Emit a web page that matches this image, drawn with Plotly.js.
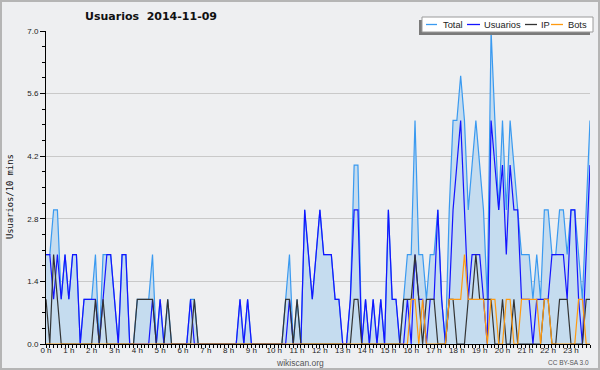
<!DOCTYPE html>
<html><head><meta charset="utf-8">
<script src="https://cdn.plot.ly/plotly-3.0.1.min.js"></script>
<style>
html,body{margin:0;padding:0;background:#eeeff1;}
#wrap{position:relative;width:600px;height:370px;}
#chart{width:600px;height:370px;}
#frame{position:absolute;left:0;top:0;width:600px;height:370px;box-sizing:border-box;border:2px solid #b5b5b5;pointer-events:none;}
</style>
</head><body>
<div id="wrap"><div id="chart"></div><div id="frame"></div></div>
<script>
// 10-minute slots, 2014-11-09 (144 values, 00:00 .. 23:50)
const total = [
 2,2,3,3,1,2,1,2,2,0,1,1,
 1,2,0,2,2,2,1,0,2,2,0,0,
 1,1,1,1,2,0,1,0,1,0,0,0,
 0,0,1,1,0,0,0,0,0,0,0,0,
 0,0,0,1,0,1,0,0,0,0,0,0,
 0,0,0,1,2,0,1,0,3,2,1,2,
 3,2,2,2,1,1,0,0,1,4,4,0,
 1,0,1,0,1,0,3,1,1,0,1,2,
 2,5,2,2,1,2,2,3,1,0,3,5,
 5,6,5,3,4,5,4,3,1,7,5,3,
 5,3,5,4,3,2,2,2,1,2,1,3,
 3,2,2,3,3,2,3,3,2,1,3,5
];
const usuarios = [
 2,2,1,2,1,2,1,2,2,0,1,1,
 1,1,0,1,2,2,1,0,2,2,0,0,
 0,0,0,0,1,0,1,0,0,0,0,0,
 0,0,1,0,0,0,0,0,0,0,0,0,
 0,0,0,1,0,1,0,0,0,0,0,0,
 0,0,0,0,1,0,0,0,3,2,1,2,
 3,2,2,2,1,1,0,0,1,3,3,0,
 1,0,1,0,1,0,3,1,1,0,0,1,
 0,2,1,1,0,1,1,3,1,0,1,3,
 4,5,3,1,2,2,2,1,0,5,4,3,
 4,2,4,3,3,1,1,1,0,1,1,1,
 1,2,2,2,2,1,3,3,1,0,2,4
];
const ip = [
 1,0,2,1,0,0,0,0,0,0,0,0,
 0,1,0,1,0,0,0,0,0,0,0,0,
 1,1,1,1,1,0,0,0,1,0,0,0,
 0,0,0,1,0,0,0,0,0,0,0,0,
 0,0,0,0,0,0,0,0,0,0,0,0,
 0,0,0,1,1,0,1,0,0,0,0,0,
 0,0,0,0,0,0,0,0,0,1,1,0,
 0,0,0,0,0,0,0,0,0,0,1,1,
 1,2,1,0,1,1,1,0,0,0,1,1,
 0,0,0,1,1,2,1,1,1,1,0,0,
 1,0,0,1,0,0,0,0,0,0,0,1,
 1,0,0,1,1,1,0,0,0,0,1,1
];
const bots = [
 0,0,0,0,0,0,0,0,0,0,0,0,
 0,0,0,0,0,0,0,0,0,0,0,0,
 0,0,0,0,0,0,0,0,0,0,0,0,
 0,0,0,0,0,0,0,0,0,0,0,0,
 0,0,0,0,0,0,0,0,0,0,0,0,
 0,0,0,0,0,0,0,0,0,0,0,0,
 0,0,0,0,0,0,0,0,0,0,0,0,
 0,0,0,0,0,0,0,0,0,0,0,0,
 1,1,0,1,0,0,0,0,0,0,1,1,
 1,1,2,1,1,1,1,1,0,1,1,0,
 0,1,1,0,0,1,1,1,1,1,0,1,
 1,0,0,0,0,0,0,0,1,1,0,0
];
const seriesNames = ["Total","Usuarios","IP","Bots"];
const colors = {Total:"#3a9af0", Usuarios:"#1414ff", IP:"#333333", Bots:"#ff9a10"};
const fillColor = "#c5dcef";
const titleText = "Usuarios\u00a0\u00a02014-11-09";
const yTitle = "Usuarios/10 mins";
const footer = "wikiscan.org";
const license = "CC BY-SA 3.0";

const hours = total.map((_, i) => i / 6);

const W = 600, H = 370, L = 46, R = 10, T = 31, B = 26;
const PW = W - L - R, PH = H - T - B;
const px = x => (x - L) / PW;
const py = y => (H - B - y) / PH;

const traces = [
  {x: hours, y: total, name: "Total", type: "scatter", mode: "lines", fill: "tozeroy",
   fillcolor: fillColor, line: {color: colors.Total, width: 1.2}},
  {x: hours, y: usuarios, name: "Usuarios", type: "scatter", mode: "lines",
   line: {color: colors.Usuarios, width: 1.2}},
  {x: hours, y: ip, name: "IP", type: "scatter", mode: "lines",
   line: {color: colors.IP, width: 1.2}},
  {x: hours, y: bots, name: "Bots", type: "scatter", mode: "lines",
   line: {color: colors.Bots, width: 1.2}}
];

// manual legend (compact, with drop shadow)
const legLines = [[426,437],[467,480],[525,537],[551,563]];
const legText = [442,483,540,567];
const legY = 24.5;
const shapes = [
  {type:"rect", xref:"paper", yref:"paper", x0:px(419), x1:px(590), y0:py(35), y1:py(20),
   fillcolor:"#7a7a7a", line:{width:0}, layer:"above"},
  {type:"rect", xref:"paper", yref:"paper", x0:px(422), x1:px(593), y0:py(32), y1:py(17),
   fillcolor:"#ffffff", line:{width:1, color:"#9a9a9a"}, layer:"above"}
];
const annotations = [];
seriesNames.forEach((n, k) => {
  shapes.push({type:"line", xref:"paper", yref:"paper", x0:px(legLines[k][0]), x1:px(legLines[k][1]),
    y0:py(legY), y1:py(legY), line:{color:colors[n], width:1.3}, layer:"above"});
  annotations.push({xref:"paper", yref:"paper", x:px(legText[k]), y:py(legY), text:n, showarrow:false,
    xanchor:"left", yanchor:"middle", borderpad:0, font:{family:"Liberation Sans, Arial", size:9.3, color:"#222"}});
});
annotations.push({xref:"paper", yref:"paper", x:px(10), y:py(197), text:yTitle, textangle:-90, showarrow:false,
  xanchor:"center", yanchor:"middle", font:{family:"DejaVu Sans Mono, monospace", size:8.8, color:"#111"}});
annotations.push({xref:"paper", yref:"paper", x:px(300), y:py(362.5), text:footer, showarrow:false,
  xanchor:"center", yanchor:"middle", borderpad:0, font:{family:"Liberation Sans, Arial", size:8.5, color:"#555"}});
annotations.push({xref:"paper", yref:"paper", x:px(590), y:py(362.5), text:license, showarrow:false,
  xanchor:"right", yanchor:"middle", borderpad:0, font:{family:"Liberation Sans, Arial", size:6.5, color:"#555"}});

const layout = {
  width: W, height: H,
  margin: {l: L, r: R, t: T, b: B, pad: 0},
  paper_bgcolor: "#eeeff1", plot_bgcolor: "#eeeff1",
  showlegend: false,
  title: {text: titleText, xref: "container", yref: "container", x: 151/600, y: 1 - 16.5/370,
    xanchor: "center", yanchor: "middle",
    font: {family: "DejaVu Sans, Verdana", size: 11, color: "#111", weight: "bold"}},
  xaxis: {range: [0, 143/6], tickmode: "linear", tick0: 0, dtick: 1, ticksuffix: " h",
    showline: true, linecolor: "#000", linewidth: 1, ticks: "outside", ticklen: 3, tickcolor: "#000",
    ticklabelstandoff: -5,
    showgrid: false, zeroline: false, fixedrange: true,
    tickfont: {family: "Liberation Sans, Arial", size: 8, color: "#222"},
    minor: {dtick: 1/6, ticklen: 3, tickcolor: "#000", showgrid: false}},
  yaxis: {range: [0, 7], tickmode: "linear", tick0: 0, dtick: 1.4, tickformat: ".1f",
    showline: true, linecolor: "#000", linewidth: 1, ticks: "outside", ticklen: 5, tickcolor: "#000",
    showgrid: true, gridcolor: "#c9c9c9", gridwidth: 1, zeroline: false, fixedrange: true,
    tickfont: {family: "Liberation Sans, Arial", size: 8, color: "#222"},
    minor: {dtick: 0.35, ticklen: 3, tickcolor: "#000", showgrid: false}},
  shapes: shapes,
  annotations: annotations
};

Plotly.newPlot("chart", traces, layout, {staticPlot: true, displayModeBar: false});
</script>
</body></html>
